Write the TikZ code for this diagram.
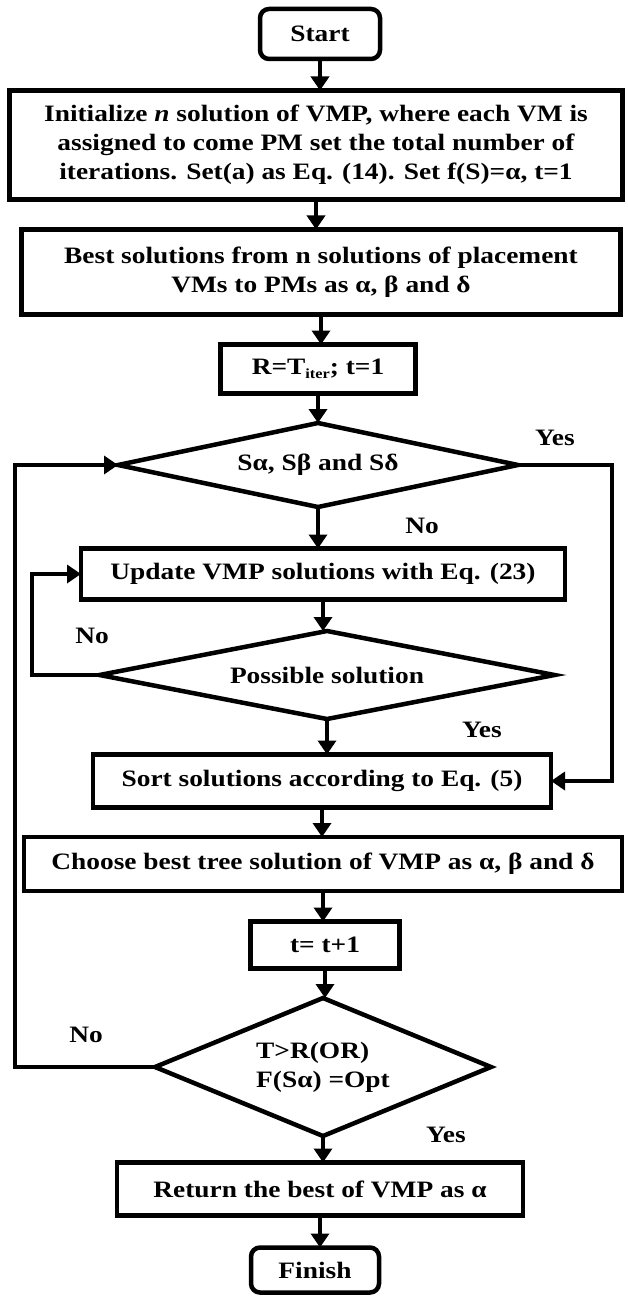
\documentclass[tikz,border=0pt]{standalone}
\usepackage{fontspec}
\setmainfont{Liberation Serif}[FakeStretch=1.165]
\usetikzlibrary{shapes.geometric,arrows.meta}

\begin{document}
\begin{tikzpicture}[
  line width=4.5pt,
  every node/.style={font=\bfseries\fontsize{23.5}{29}\selectfont, outer sep=0pt},
  blk/.style={draw, rectangle, align=center, inner sep=2pt},
  term/.style={blk, rounded corners=9pt},
  cond/.style={draw, diamond, align=center, inner sep=0pt},
  arr/.style={-{Triangle[width=18pt,length=14pt]}},
  lbl/.style={anchor=base}
  ]

  \useasboundingbox (0pt,0pt) rectangle (628pt,-1297pt);

  \node[term, minimum width=120pt, minimum height=50pt] (start) at (320pt,-34pt) {Start};
  \node[blk, minimum width=613pt, minimum height=109pt] (init) at (316pt,-145pt)
    {Initialize \textit{n} solution of VMP, where each VM is\\
     assigned to come PM set the total number of\\
     iterations. Set(a) as Eq. (14). Set f(S)=α, t=1};
  \node[blk, minimum width=599pt, minimum height=85pt] (best) at (321pt,-272pt)
    {Best solutions from n solutions of placement\\ VMs to PMs as α, β and δ};
  \node[blk, minimum width=195pt, minimum height=49pt] (iter) at (318pt,-369pt)
    {R=T\raisebox{-4pt}{\fontsize{14}{14}\selectfont iter}; t=1};
  \node[cond, minimum width=400pt, minimum height=84pt, aspect=4.7] (chk) at (318pt,-465pt)
    {Sα, Sβ and Sδ};
  \node[blk, minimum width=484pt, minimum height=51pt] (upd) at (323pt,-574pt)
    {Update VMP solutions with Eq. (23)};
  \node[cond, minimum width=455pt, minimum height=88pt, aspect=5.2] (feas) at (327pt,-675pt)
    {Possible solution};
  \node[blk, minimum width=458pt, minimum height=53pt] (sort) at (322pt,-781pt)
    {Sort solutions according to Eq. (5)};
  \node[blk, minimum width=598pt, minimum height=54pt] (pick) at (323pt,-864pt)
    {Choose best tree solution of VMP as α, β and δ};
  \node[blk, minimum width=149pt, minimum height=47pt] (inc) at (325pt,-945pt) {t= t+1};
  \node[cond, minimum width=336pt, minimum height=138pt, aspect=2.4, align=left] (stop)
    at (323pt,-1067pt) {T>R(OR)\\ F(Sα) =Opt};
  \node[blk, minimum width=406pt, minimum height=53pt] (ret) at (320pt,-1189pt)
    {Return the best of VMP as α};
  \node[term, minimum width=128pt, minimum height=45pt] (finish) at (315pt,-1270pt) {Finish};

  %% main column
  \foreach \a/\b in {start/init, init/best, best/iter, iter/chk, chk/upd, upd/feas,
    feas/sort, sort/pick, pick/inc, inc/stop, stop/ret, ret/finish}
    \draw[arr] (\a.south) -- (\a.south |- \b.north);

  %% side loops
  \coordinate (rside) at (612pt,0pt);
  \coordinate (lside) at (15pt,0pt);
  \coordinate (lin) at (32pt,0pt);
  \draw[arr] (chk.east) -- (chk.east -| rside) -- (sort.east -| rside) -- (sort.east);
  \draw[arr] (stop.west) -- (stop.west -| lside) -- (chk.west -| lside) -- (chk.west);
  \draw[arr] (feas.west) -- (feas.west -| lin) -- (upd.west -| lin) -- (upd.west);

  \node[lbl] (yes1) at (555pt,-445pt) {Yes};
  \node[lbl] (no1) at (422pt,-533pt) {No};
  \node[lbl] (no2) at (92pt,-643pt) {No};
  \node[lbl] (yes2) at (482pt,-737pt) {Yes};
  \node[lbl] (no3) at (86pt,-1042pt) {No};
  \node[lbl] (yes3) at (446pt,-1142pt) {Yes};

\end{tikzpicture}
\end{document}
